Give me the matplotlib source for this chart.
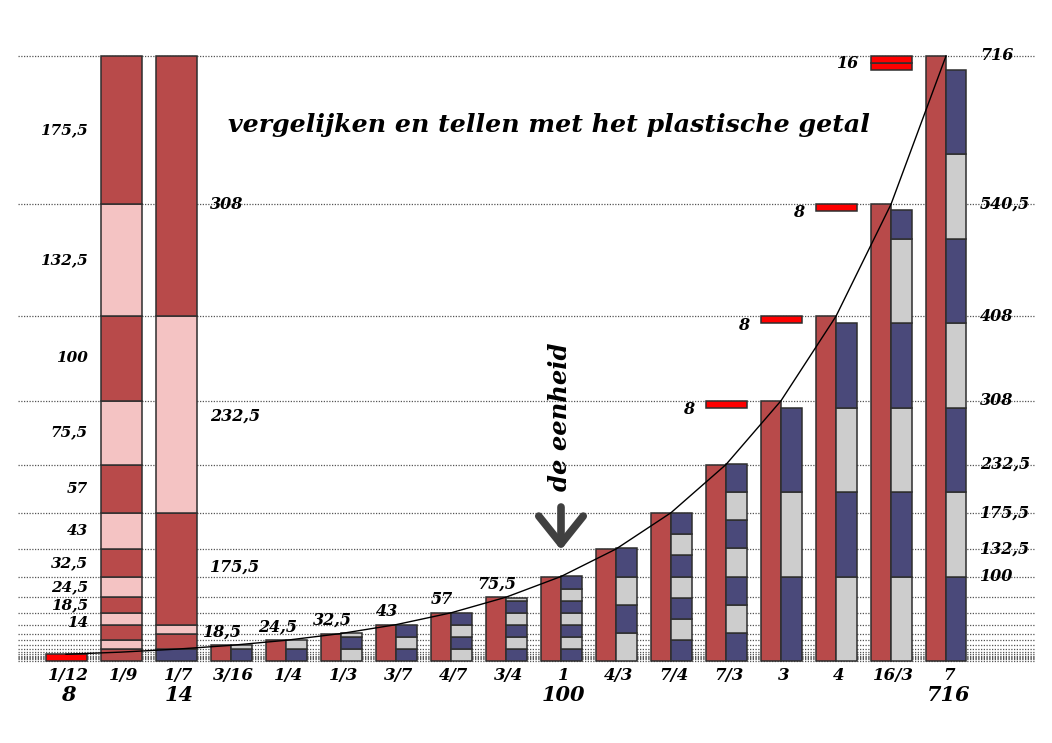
import matplotlib
matplotlib.use('Agg')
import matplotlib.pyplot as plt
from matplotlib.patches import Rectangle, FancyArrowPatch

# ---------------- data ----------------
categories = ['1/12', '1/9', '1/7', '3/16', '1/4', '1/3', '3/7', '4/7', '3/4',
              '1', '4/3', '7/4', '7/3', '3', '4', '16/3', '7']
values = [8, 10.5, 14, 18.5, 24.5, 32.5, 43, 57, 75.5,
          100, 132.5, 175.5, 232.5, 308, 408, 540.5, 716]
sub_labels = ['8', '', '14', '', '', '', '', '', '',
              '100', '', '', '', '', '', '', '716']

grid_values = [716, 540.5, 408, 308, 232.5, 175.5, 132.5, 100, 75.5, 57, 43,
               32.5, 24.5, 18.5, 14, 10.5, 8, 6, 4.5, 3.5, 2.5, 0]
right_labels = ['716', '540,5', '408', '308', '232,5', '175,5', '132,5', '100']
right_label_values = [716, 540.5, 408, 308, 232.5, 175.5, 132.5, 100]

# tower at 1/9 : segment boundaries, colours alternate red/pink
tower9_bounds = [0, 14, 24.5, 43, 57, 75.5, 100, 132.5, 175.5, 232.5, 308, 408, 540.5, 716]
tower9_labels = ['', '', '', '14', '18,5', '24,5', '32,5', '43', '57', '75,5',
                 '100', '132,5', '175,5']
# tower at 1/7
tower7_bounds = [0, 14, 32.5, 43, 175.5, 408, 716]
tower7_kinds = ['blue', 'red', 'pink', 'red', 'pink', 'red']
tower7_labels = ['175,5', '232,5', '308']
tower7_label_values = [111, 290, 540.5]

# right-hand stacks (category index, colour of lowest segment, segment heights)
stack_index = [3, 4, 5, 6, 7, 8, 9, 10, 11, 12, 13, 14, 15, 16]
stack_first = ['blue', 'blue', 'grey', 'blue', 'grey', 'blue', 'blue', 'grey',
               'blue', 'blue', 'blue', 'grey', 'grey', 'blue']
stack_segments = [
    [14.29, 4.46],
    [14.29, 10.71],
    [14.29, 14.29, 4.75],
    [14.29, 14.29, 14.29],
    [14.29, 14.29, 14.29, 14.29],
    [14.29, 14.29, 14.29, 14.29, 14.29, 3.55],
    [14.29, 14.29, 14.29, 14.29, 14.29, 14.29, 14.29],
    [33.33, 33.33, 33.33, 33.33],
    [25, 25, 25, 25, 25, 25, 25],
    [33.33, 33.33, 33.33, 33.33, 33.33, 33.33, 33.33],
    [100, 100, 100],
    [100, 100, 100, 100],
    [100, 100, 100, 100, 100, 33.33],
    [100, 100, 100, 100, 100, 100, 100],
]

# bright red difference markers
marker_index = [12, 13, 14, 15]
marker_bottom = [300, 400, 532.5, 700]
marker_pieces = [[8], [8], [8], [8, 8]]
marker_labels = ['8', '8', '8', '16']
marker_label_values = [298, 397.5, 531, 707]

title = 'vergelijken en tellen met het plastische getal'
unit_text = 'de eenheid'

# ---------------- style ----------------
COL = {'red': '#B84A4A', 'pink': '#F4C3C3', 'blue': '#4A497A',
       'grey': '#CDCDCD', 'bright': '#FF0000'}
EDGE = '#2E2E2E'
FONT = 'DejaVu Serif'
TXT = dict(fontweight='bold', style='italic', family=FONT)

fig = plt.figure(figsize=(10.52, 7.43), dpi=100)
ax = fig.add_axes([0, 0, 1, 1])
# pixel mapping: x_px = 66 + 55*i ; y_px = 661 - 605/716*v
ax.set_xlim(-66 / 55, (1052 - 66) / 55)
k = 605 / 716
ax.set_ylim(-(743 - 661) / k, 661 / k)
ax.axis('off')

W = 41 / 55
H = W / 2


def rect(x0, y0, w, h, color, z=3, lw=1.1):
    ax.add_patch(Rectangle((x0, y0), w, h, facecolor=color, edgecolor=EDGE,
                           linewidth=lw, zorder=z))


# grid
for g in grid_values:
    ax.plot([(18 - 66) / 55, (1035 - 66) / 55], [g, g], color='#555555',
            linewidth=0.9, linestyle=(0, (1, 1.2)), zorder=1)

# 1/12 marker bar
rect(0 - H, 0, W, values[0], COL['bright'])

# 1/9 tower
for i in range(len(tower9_bounds) - 1):
    b0, b1 = tower9_bounds[i], tower9_bounds[i + 1]
    rect(1 - H, b0, W, b1 - b0, COL['red'] if i % 2 == 0 else COL['pink'])
    if tower9_labels[i]:
        ly = (b0 + b1) / 2
        if i == 3:
            ly -= 5          # lowest label sits a little lower
        ax.text(88 / 55 - 66 / 55, ly, tower9_labels[i], ha='right',
                va='center', fontsize=11, zorder=5, **TXT)

# 1/7 tower
for i in range(len(tower7_bounds) - 1):
    b0, b1 = tower7_bounds[i], tower7_bounds[i + 1]
    rect(2 - H, b0, W, b1 - b0, COL[tower7_kinds[i]])
for lab, v in zip(tower7_labels, tower7_label_values):
    ax.text((210 - 66) / 55, v, lab, ha='left', va='center', fontsize=11.5,
            zorder=5, **TXT)

# paired bars
for idx, first, segs in zip(stack_index, stack_first, stack_segments):
    rect(idx - H, 0, H, values[idx], COL['red'])
    y = 0
    kind = first
    for s in segs:
        rect(idx, y, H, s, COL[kind])
        y += s
        kind = 'grey' if kind == 'blue' else 'blue'

# value labels above the small bars
for idx in range(3, 9):
    ax.text(idx - 0.16, values[idx] + 6, f'{values[idx]:g}'.replace('.', ','),
            ha='center', va='bottom', fontsize=11.5, zorder=5, **TXT)

# difference markers
for idx, b, pieces, lab, lv in zip(marker_index, marker_bottom, marker_pieces,
                                   marker_labels, marker_label_values):
    y = b
    for p in pieces:
        rect(idx - H, y, W, p, COL['bright'], z=4)
        y += p
    ax.text(idx - H - 0.2, lv, lab, ha='right', va='center', fontsize=11.5,
            zorder=5, **TXT)

# curve through the bar tops
ax.plot(range(len(values)), values, color='black', linewidth=1.0, zorder=6)

# right labels
for lab, v in zip(right_labels, right_label_values):
    ax.text((980 - 66) / 55, v, lab, ha='left', va='center', fontsize=11.5,
            zorder=5, **TXT)

# category labels
for i, (c, s) in enumerate(zip(categories, sub_labels)):
    ax.text(i + 0.05, -17, c, ha='center', va='center', fontsize=12, **TXT)
    if s:
        ax.text(i + 0.05, -40, s, ha='center', va='center', fontsize=15, **TXT)

# title
ax.text((549 - 66) / 55, (661 - 125) / k, title, ha='center', va='center',
        fontsize=18.2, **TXT)

# unit text + arrow
ax.text(9 - 0.02, (661 - 417) / k, unit_text, rotation=90, ha='center',
        va='center', fontsize=17.5, **TXT)
arr = FancyArrowPatch((9, (661 - 507) / k), (9, (661 - 550) / k),
                      arrowstyle='->,head_length=1.0,head_width=0.8',
                      mutation_scale=20, linewidth=5.5, color='#404040',
                      zorder=6, shrinkA=0, shrinkB=0)
ax.add_patch(arr)

fig.savefig('out.png', dpi=100)
